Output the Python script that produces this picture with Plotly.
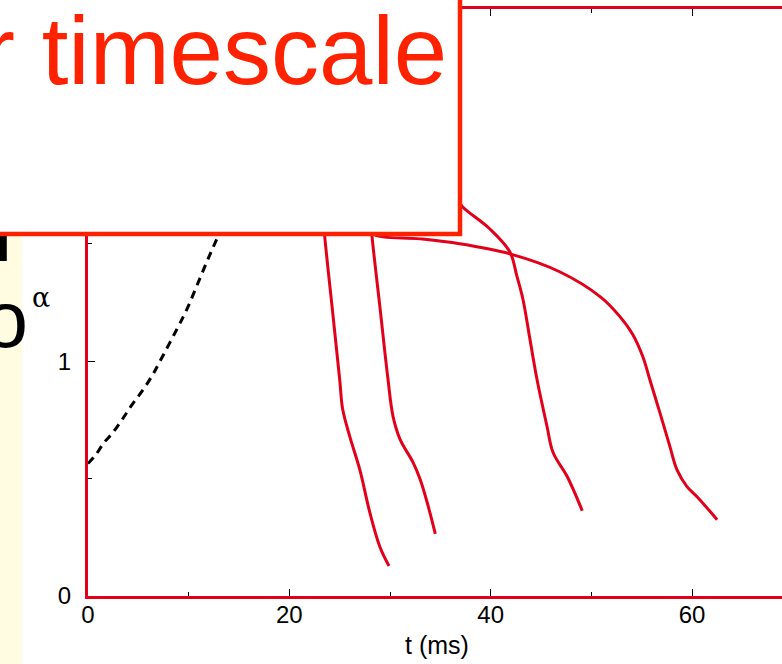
import plotly.graph_objects as go

# ---- data ----
dash_t = [0, 0.8, 1.6, 2.4, 3.4, 4.4, 5.5, 6.45, 7.15, 8.84, 9.83, 10.8, 11.8, 12.8, 14.0]
dash_a = [0.564, 0.603, 0.654, 0.692, 0.752, 0.816, 0.880, 0.944, 1.0, 1.137, 1.222, 1.32, 1.423, 1.521, 1.64]

c1_t = [23.3, 23.5, 24.25, 25.0, 25.3, 26.0, 27.0, 28.0, 29.0, 29.9]
c1_a = [1.65, 1.538, 1.23, 0.923, 0.795, 0.68, 0.538, 0.355, 0.209, 0.128]

c2_t = [28.0, 28.2, 29.0, 29.8, 30.3, 31.0, 32.3, 33.0, 33.7, 34.5]
c2_a = [1.65, 1.538, 1.23, 0.923, 0.765, 0.667, 0.568, 0.496, 0.397, 0.265]

c3_t = [36.5, 37.2, 39.9, 41.9, 42.6, 43.2, 43.9, 44.6, 45.6, 46.2, 47.6, 49.1]
c3_a = [1.70, 1.658, 1.564, 1.466, 1.363, 1.265, 1.094, 0.923, 0.722, 0.611, 0.509, 0.363]

c4_t = [28.3, 28.5, 33.0, 36.9, 41.9, 46.9, 50.9, 52.8, 54.1, 55.1, 55.8, 56.8, 57.8, 58.5, 59.5, 60.5, 62.5]
c4_a = [1.56, 1.538, 1.521, 1.500, 1.457, 1.380, 1.274, 1.192, 1.115, 1.021, 0.923, 0.782, 0.637, 0.538, 0.466, 0.423, 0.325]

x_ticks = [0, 20, 40, 60]
y_ticks = [0, 1, 2]

# slide text fragments cut off at the left edge
side_text = ["n", "o"]

RED = "#E2001A"
BOXRED = "#FF2200"
FONT = "Liberation Sans, Arial, Helvetica, sans-serif"

W, H = 782, 664
PL, PR, PT, PB = 88, 782, 9, 596   # plot area in pixels
XMAX, YMAX = 68.94, 2.5

fig = go.Figure()
# page overlay in pixel coordinates (x2/y2) for the slide fragments
fig.add_trace(go.Scatter(x=[12, 28], y=[241, 327], xaxis="x2", yaxis="y2", mode="text", text=side_text,
                         textposition="middle left", cliponaxis=False, hoverinfo="skip",
                         textfont=dict(family="Liberation Sans, Arial, sans-serif", size=80, color="black"),
                         showlegend=False))
fig.add_trace(go.Scatter(x=dash_t, y=dash_a, mode="lines",
                         line=dict(color="black", width=3, dash="8px,6px", shape="spline"), showlegend=False))
for tt, aa in [(c1_t, c1_a), (c2_t, c2_a), (c3_t, c3_a), (c4_t, c4_a)]:
    fig.add_trace(go.Scatter(x=tt, y=aa, mode="lines", line=dict(color=RED, width=3, shape="spline"), showlegend=False))

fig.update_layout(
    width=W, height=H,
    margin=dict(l=0, r=0, t=0, b=0, pad=0, autoexpand=False),
    paper_bgcolor="white", plot_bgcolor="rgba(0,0,0,0)",
    font=dict(family=FONT, size=24, color="black"),
    xaxis=dict(domain=[PL / W, PR / W], range=[0, XMAX], anchor="y",
               tickmode="array", tickvals=x_ticks, ticktext=[str(v) for v in x_ticks],
               automargin=False,
               showline=True, linecolor=RED, linewidth=3, mirror="ticks",
               ticks="inside", ticklen=7, tickcolor="black", tickwidth=1,
               minor=dict(tickvals=[10, 30, 50], ticks="inside", ticklen=4, tickcolor="black", tickwidth=1),
               ticklabelstandoff=-5,
               showgrid=False, zeroline=False),
    yaxis=dict(domain=[(H - PB) / H, (H - PT) / H], range=[0, YMAX], anchor="x",
               tickmode="array", tickvals=y_ticks, ticktext=[str(v) for v in y_ticks],
               automargin=False,
               showline=True, linecolor=RED, linewidth=3, mirror=False,
               ticks="inside", ticklen=7, tickcolor="black", tickwidth=1,
               minor=dict(tickvals=[0.5, 1.5], ticks="inside", ticklen=4, tickcolor="black", tickwidth=1),
               ticklabelstandoff=9,
               showgrid=False, zeroline=False),
    xaxis2=dict(domain=[0, 1], range=[0, W], anchor="y2", visible=False, fixedrange=True),
    yaxis2=dict(domain=[0, 1], range=[H, 0], anchor="x2", visible=False, fixedrange=True),
    shapes=[
        dict(type="rect", xref="x2", yref="y2", x0=-20, x1=22, y0=-20, y1=700,
             fillcolor="#FFFCE2", line=dict(width=0), layer="below"),
        dict(type="rect", xref="x2", yref="y2", x0=-20, x1=460, y0=-20, y1=234,
             fillcolor="white", line=dict(color=BOXRED, width=4.5), layer="above"),
    ],
    annotations=[
        dict(text="r timescale", xref="x2", yref="y2", x=449, y=50, xanchor="right", yanchor="middle",
             showarrow=False, font=dict(family="Liberation Sans, Arial, sans-serif", size=96, color=BOXRED)),
        dict(text="α", xref="x2", yref="y2", x=41, y=297, xanchor="center", yanchor="middle",
             showarrow=False, font=dict(family="DejaVu Serif, Liberation Serif, serif", size=27, color="black")),
        dict(text="t (ms)", xref="x2", yref="y2", x=437, y=645, xanchor="center", yanchor="middle",
             showarrow=False, font=dict(family=FONT, size=25, color="black")),
    ],
)

fig.write_html("out.html", config={"displayModeBar": False},
               post_script="document.body.style.margin='0';document.body.style.overflow='hidden';")
